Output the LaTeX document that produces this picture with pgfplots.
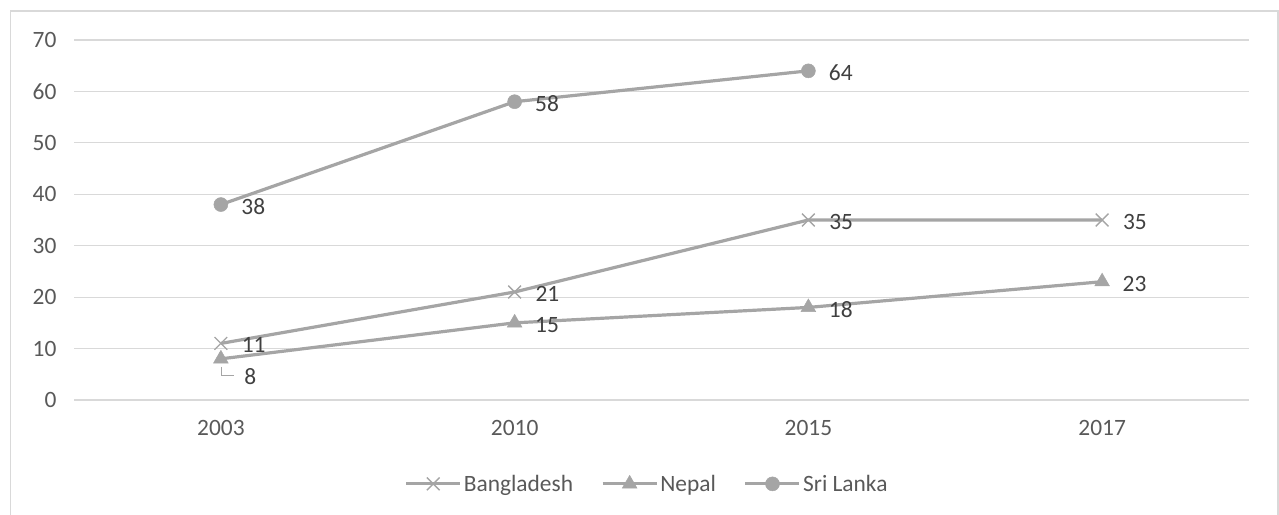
\documentclass[border=0pt]{standalone}
\usepackage{pgfplots}
\pgfplotsset{compat=1.18}
\usepackage{fontspec}
\setmainfont{Carlito}
\definecolor{ln}{HTML}{A5A5A5}
\definecolor{grd}{HTML}{D9D9D9}
\definecolor{tk}{HTML}{595959}
\definecolor{lb}{HTML}{404040}
\begin{document}
\begin{tikzpicture}[x=1bp,y=1bp]
\useasboundingbox (0,0) rectangle (1279,515);
\draw[grd, line width=1.2bp] (10.5,0) -- (10.5,504) -- (1278,504) -- (1278,0);
\begin{axis}[
  /pgf/number format/assume math mode=true,
  at={(74bp,115bp)}, anchor=south west,
  scale only axis, width=1175bp, height=360bp,
  xmin=-0.5, xmax=3.5, ymin=0, ymax=70,
  xtick={0,1,2,3}, xticklabels={2003,2010,2015,2017},
  ytick={0,10,...,70},
  ymajorgrids, grid style={grd, line width=1.2bp},
  axis line style={draw=none},
  major tick length=0pt,
  tick label style={font=\fontsize{23.5}{27}\selectfont, text=tk},
  yticklabel style={xshift=-14bp},
  xticklabel style={yshift=-17bp},
  clip=false,
  legend style={at={(0.4877,-0.233)}, anchor=center, draw=none, fill=none,
    font=\fontsize{23.5}{27}\selectfont, text=tk,
    /tikz/every even column/.append style={column sep=26bp}},
  legend columns=-1,
  legend image code/.code={
    \draw[mark repeat=2,mark phase=2,#1] plot coordinates {(0bp,0bp)(27bp,0bp)(54bp,0bp)};},
  nodes near coords,
  every node near coord/.append style={font=\fontsize{23.5}{27}\selectfont, text=lb, anchor=west, xshift=17bp, yshift=-2bp},
]
\addplot[ln, line width=3.2bp, mark=x, mark size=9bp, mark options={ln, line width=1.3bp, solid}]
  coordinates {(0,11) (1,21) (2,35) (3,35)};
\addlegendentry{Bangladesh}
\addplot[ln, line width=3.2bp, mark=triangle*, mark size=8.5bp, mark options={ln, fill=ln, line width=0.5bp},
  coordinate style/.condition={\coordindex==0}{xshift=3bp, yshift=-16bp}]
  coordinates {(0,8) (1,15) (2,18) (3,23)};
\addlegendentry{Nepal}
\addplot[ln, line width=3.2bp, mark=*, mark size=7bp, mark options={ln, fill=ln, line width=0.5bp}]
  coordinates {(0,38) (1,58) (2,64)};
\addlegendentry{Sri Lanka}
\draw[ln, line width=1.5bp] ([xshift=0.7bp,yshift=-8bp]axis cs:0,8) -- ([xshift=0.7bp,yshift=-16.5bp]axis cs:0,8) -- ([xshift=13bp,yshift=-16.5bp]axis cs:0,8);
\end{axis}
\end{tikzpicture}
\end{document}
